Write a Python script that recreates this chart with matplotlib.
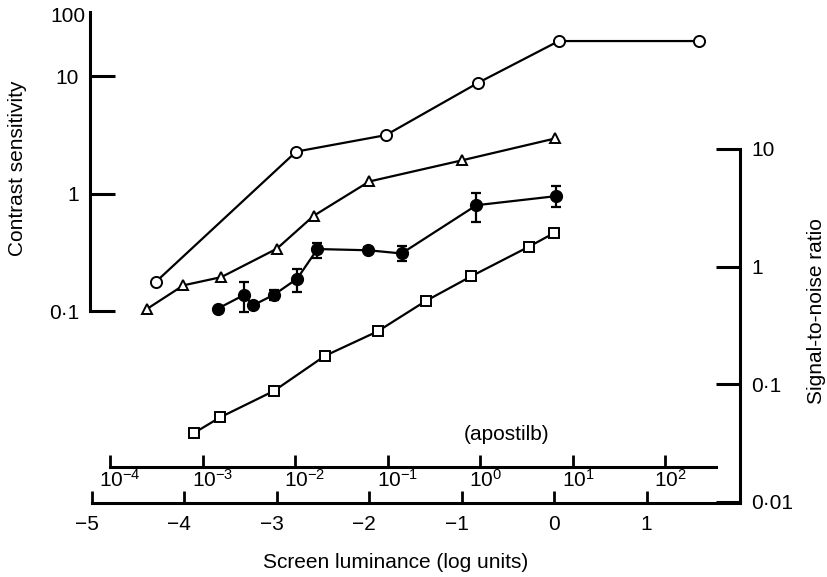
import matplotlib.pyplot as plt
from matplotlib.ticker import NullLocator
from matplotlib.transforms import ScaledTranslation

plt.rcParams['font.family'] = ['Liberation Sans', 'DejaVu Sans']
plt.rcParams['mathtext.fontset'] = 'custom'
plt.rcParams['mathtext.rm'] = 'Liberation Sans'
plt.rcParams['mathtext.it'] = 'Liberation Sans'
plt.rcParams['mathtext.bf'] = 'Liberation Sans'

# ---- data (x in log units, y in contrast sensitivity / signal-to-noise ratio) ----
circ_x = [-4.31, -2.79, -1.82, -0.82, 0.05, 1.57]
circ_y = [0.177, 2.28, 3.15, 8.8, 19.9, 19.9]

tri_x = [-4.40, -4.01, -3.60, -3.00, -2.60, -2.00, -1.00, 0.01]
tri_y = [0.105, 0.166, 0.195, 0.340, 0.649, 1.27, 1.92, 2.95]

dot_x = [-3.64, -3.35, -3.26, -3.03, -2.78, -2.56, -2.01, -1.65, -0.84, 0.02]
dot_y = [0.105, 0.138, 0.112, 0.138, 0.189, 0.338, 0.330, 0.310, 0.798, 0.953]
dot_lo = [0.105, 0.0989, 0.112, 0.124, 0.145, 0.284, 0.312, 0.267, 0.577, 0.774]
dot_hi = [0.105, 0.177, 0.112, 0.153, 0.230, 0.382, 0.351, 0.357, 1.005, 1.16]

# squares are read on the right-hand (signal-to-noise) axis
sq_x = [-3.89, -3.61, -3.03, -2.48, -1.91, -1.39, -0.90, -0.27, 0.00]
sq_y = [0.0387, 0.0524, 0.0877, 0.174, 0.281, 0.509, 0.824, 1.48, 1.93]

log_ticks = [-5, -4, -3, -2, -1, 0, 1]
log_labels = ['\u22125', '\u22124', '\u22123', '\u22122', '\u22121', '0', '1']
asb_ticks = [-4, -3, -2, -1, 0, 1, 2]
asb_labels = [r'$10^{-4}$', r'$10^{-3}$', r'$10^{-2}$', r'$10^{-1}$',
              r'$10^{0}$', r'$10^{1}$', r'$10^{2}$']
cs_ticks = [0.1, 1, 10]
cs_labels = ['0\u00b71', '1', '10']
snr_ticks = [0.01, 0.1, 1, 10]
snr_labels = ['0\u00b701', '0\u00b71', '1', '10']
asb_offset = 0.8  # log apostilb = log units + offset

fs = 15
W, H = 827, 577
fig = plt.figure(figsize=(W / 100, H / 100), dpi=100)
ax = fig.add_axes([90 / W, 1 - 503 / H, 650 / W, 491 / H])


def shift_px(dx):
    return ScaledTranslation(dx / 100, 0, fig.dpi_scale_trans)


lw = 1.6
ax.plot(circ_x, circ_y, color='black', lw=lw, marker='o', ms=8,
        mfc='white', mec='black', mew=1.4, zorder=3)
ax.plot(tri_x, tri_y, color='black', lw=lw, marker='^', ms=7.5,
        mfc='white', mec='black', mew=1.4, zorder=3)
yerr = [[y - lo for y, lo in zip(dot_y, dot_lo)],
        [hi - y for y, hi in zip(dot_y, dot_hi)]]
ax.errorbar(dot_x, dot_y, yerr=yerr, color='black', lw=lw, marker='o', ms=8.5,
            mfc='black', mec='black', elinewidth=1.6, capsize=3.5, capthick=1.6,
            zorder=3)

ax.set_xlim(-5.02, 2.01)
ax.set_yscale('log')
ax.set_ylim(10 ** -2.632, 10 ** 1.546)

ax.set_xticks(log_ticks)
ax.set_xticklabels(log_labels)
ax.set_yticks(cs_ticks)
ax.set_yticklabels(cs_labels)
ax.yaxis.set_minor_locator(NullLocator())
ax.tick_params(axis='x', direction='in', length=9, width=2, labelsize=fs, pad=9)
ax.tick_params(axis='y', direction='in', length=18, width=2.2, labelsize=fs, pad=8)
# the minus sign sits left of the tick, the digit on it
for lbl in ax.get_xticklabels():
    if lbl.get_text().startswith('\u2212'):
        lbl.set_transform(lbl.get_transform() + shift_px(-5))

ax.spines['top'].set_visible(False)
ax.spines['right'].set_visible(False)
ax.spines['left'].set_linewidth(2.2)
ax.spines['bottom'].set_linewidth(2.2)
ax.spines['left'].set_bounds(0.1, ax.get_ylim()[1])
ax.spines['bottom'].set_bounds(-5, 2.01)

ax.annotate('100', xy=(0, 1), xycoords='axes fraction', xytext=(-5, -4),
            textcoords='offset pixels', ha='right', va='center', fontsize=fs)

# right-hand axis: signal-to-noise ratio
ax2 = ax.twinx()
ax2.set_yscale('log')
ax2.set_ylim(10 ** -2.01, 10 ** 2.164)
ax2.plot(sq_x, sq_y, color='black', lw=lw, marker='s', ms=6.5,
         mfc='white', mec='black', mew=1.4, zorder=3)
ax2.set_yticks(snr_ticks)
ax2.set_yticklabels(snr_labels)
ax2.yaxis.set_minor_locator(NullLocator())
ax2.tick_params(axis='y', direction='in', length=17, width=2.2, labelsize=fs, pad=8)
for side in ['top', 'left', 'bottom']:
    ax2.spines[side].set_visible(False)
ax2.spines['right'].set_linewidth(2.2)
ax2.spines['right'].set_bounds(0.01, 10)

# apostilb scale above the log-unit scale
secax = ax.secondary_xaxis(36 / 491, functions=(lambda x: x + asb_offset,
                                                 lambda x: x - asb_offset))
secax.set_xticks(asb_ticks)
secax.set_xticklabels(asb_labels)
secax.tick_params(axis='x', direction='in', length=9, width=2, labelsize=fs, pad=1.5)
secax.spines['bottom'].set_linewidth(2.2)
secax.spines['bottom'].set_bounds(-4, 2.55)
# base "10" centred on the tick, exponent hanging to the right
for lbl in secax.get_xticklabels():
    lbl.set_horizontalalignment('left')
    lbl.set_transform(lbl.get_transform() + shift_px(-11))

fig.text(507 / W, 1 - 434 / H, '(apostilb)', ha='center', va='center', fontsize=fs)
fig.text(396 / W, 1 - 563 / H, 'Screen luminance (log units)', ha='center',
         va='center', fontsize=fs)
fig.text(18 / W, 1 - 168 / H, 'Contrast sensitivity', rotation=90, ha='center',
         va='center', fontsize=fs)
fig.text(817 / W, 1 - 311 / H, 'Signal-to-noise ratio', rotation=90, ha='center',
         va='center', fontsize=fs)

fig.savefig('out.png', dpi=100)
